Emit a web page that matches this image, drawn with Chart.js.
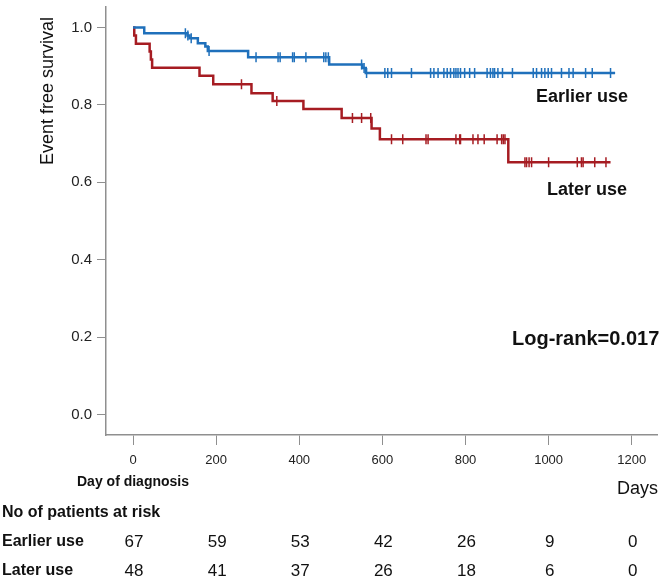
<!DOCTYPE html>
<html>
<head>
<meta charset="utf-8">
<script src="https://cdn.jsdelivr.net/npm/chart.js@4/dist/chart.umd.min.js"></script>
<style>
  body { margin: 0; background: #fff; }
  #wrap { width: 664px; height: 579px; }
</style>
</head>
<body>
<div id="wrap"><canvas id="c" width="664" height="579"></canvas></div>
<script>
// Kaplan-Meier steps: day of event and survival right after it
const earlierDays = [0, 27, 131, 136, 156, 174, 180, 277, 472, 552, 560, 1160]
const earlierSurv = [1.0, 0.985, 0.979, 0.972, 0.959, 0.951, 0.939, 0.923, 0.904, 0.895, 0.882, 0.882]
const earlierCensored = [126, 132, 140, 183, 296, 349, 354, 384, 388, 416, 459, 464, 470, 550, 556, 562,
  606, 613, 622, 670, 716, 724, 734, 748, 756, 764, 772, 777, 782, 788, 798, 810, 822, 852, 860, 866,
  870, 878, 889, 913, 963, 971, 983, 991, 999, 1007, 1031, 1049, 1059, 1089, 1105, 1149]

const laterDays = [0, 3, 7, 40, 43, 46, 160, 193, 285, 336, 410, 502, 574, 594, 903, 1149]
const laterSurv = [1.0, 0.979, 0.958, 0.9375, 0.917, 0.896, 0.875, 0.853, 0.830, 0.810, 0.789, 0.766,
  0.739, 0.711, 0.652, 0.652]
const laterCensored = [261, 346, 528, 550, 572, 622, 649, 705, 710, 777, 786, 788, 818, 830, 845, 876,
  887, 891, 895, 943, 947, 953, 959, 1000, 1069, 1079, 1083, 1111, 1138]

const xTicks = [0, 200, 400, 600, 800, 1000, 1200]
const yTicks = [0, 0.2, 0.4, 0.6, 0.8, 1.0]

const riskDays = [0, 200, 400, 600, 800, 1000, 1200]
const earlierAtRisk = [67, 59, 53, 42, 26, 9, 0]
const laterAtRisk = [48, 41, 37, 26, 18, 6, 0]

const BLUE = '#1f70bb'
const RED = '#a61c22'
const AXIS = '#8f8f8f'
const NARROW = '"Liberation Sans Narrow", "Liberation Sans", Arial, sans-serif'
const SANS = '"Liberation Sans", Arial, sans-serif'

function steps(days, surv) {
    return days.map((d, i) => ({ x: d, y: surv[i] }))
}

// survival level at a censoring time
function marks(censored, days, surv) {
    return censored.map(t => {
        let s = surv[0]
        for (let i = 0; i < days.length; i++) if (days[i] <= t) s = surv[i]
        return { x: t, y: s }
    })
}

const annotate = {
    id: 'annotate',
    afterDraw(chart) {
        const c = chart.ctx
        const xs = chart.scales.x
        c.save()
        c.fillStyle = '#111'
        c.textBaseline = 'middle'

        c.save()
        c.translate(48, 91)
        c.rotate(-Math.PI / 2)
        c.textAlign = 'center'
        c.font = '18px ' + SANS
        c.fillText('Event free survival', 0, 0)
        c.restore()

        c.textAlign = 'left'
        c.font = 'bold 18px ' + SANS
        c.fillText('Earlier use', 536, 97)
        c.fillText('Later use', 547, 190)
        c.font = 'bold 20px ' + SANS
        c.fillText('Log-rank=0.017', 512, 339)

        c.textAlign = 'center'
        c.font = 'bold 14px ' + SANS
        c.fillText('Day of diagnosis', xs.getPixelForValue(0), 482)

        c.textAlign = 'right'
        c.font = '18px ' + SANS
        c.fillText('Days', 658, 489)

        c.textAlign = 'left'
        c.font = 'bold 16px ' + SANS
        c.fillText('No of patients at risk', 2, 513)
        c.fillText('Earlier use', 2, 542)
        c.fillText('Later use', 2, 571)

        c.textAlign = 'center'
        c.font = '17px ' + SANS
        riskDays.forEach((d, i) => {
            const px = xs.getPixelForValue(d) + 1
            c.fillText(String(earlierAtRisk[i]), px, 542)
            c.fillText(String(laterAtRisk[i]), px, 571)
        })
        c.restore()
    }
}

const censorStyle = {
    showLine: false,
    pointStyle: 'line',
    rotation: 90,
    pointRadius: 5,
    pointHoverRadius: 5,
    pointBorderWidth: 1.5
}

new Chart(document.getElementById('c'), {
    type: 'scatter',
    data: {
        datasets: [
            {
                data: steps(earlierDays, earlierSurv),
                showLine: true, stepped: 'before',
                borderColor: BLUE, borderWidth: 2.5, pointRadius: 0
            },
            {
                data: steps(laterDays, laterSurv),
                showLine: true, stepped: 'before',
                borderColor: RED, borderWidth: 2.5, pointRadius: 0
            },
            Object.assign({ data: marks(earlierCensored, earlierDays, earlierSurv), borderColor: BLUE, backgroundColor: BLUE }, censorStyle),
            Object.assign({ data: marks(laterCensored, laterDays, laterSurv), borderColor: RED, backgroundColor: RED }, censorStyle)
        ]
    },
    options: {
        responsive: false,
        animation: false,
        layout: { padding: { top: 3, right: 6, left: 0, bottom: 0 } },
        plugins: { legend: { display: false }, tooltip: { enabled: false } },
        scales: {
            x: {
                type: 'linear',
                min: -65,
                max: 1262,
                afterBuildTicks: s => { s.ticks = xTicks.map(v => ({ value: v })) },
                afterFit: s => { s.height = 144; s.paddingLeft = 0; s.paddingRight = 0 },
                border: { display: true, color: AXIS, width: 1.5 },
                grid: { drawOnChartArea: false, drawTicks: true, tickLength: 10, color: AXIS, lineWidth: 1 },
                ticks: { color: '#222', padding: 8, font: { family: NARROW, size: 13 }, callback: v => String(v) }
            },
            y: {
                type: 'linear',
                min: -0.0525,
                max: 1.054,
                afterBuildTicks: s => { s.ticks = yTicks.map(v => ({ value: v })) },
                afterFit: s => { s.width = 106; s.paddingTop = 0; s.paddingBottom = 0 },
                border: { display: true, color: AXIS, width: 1.5 },
                grid: { drawOnChartArea: false, drawTicks: true, tickLength: 9, color: AXIS, lineWidth: 1 },
                ticks: { color: '#222', padding: 5, font: { family: NARROW, size: 15 }, callback: v => v.toFixed(1) }
            }
        }
    },
    plugins: [annotate]
})
</script>
</body>
</html>
